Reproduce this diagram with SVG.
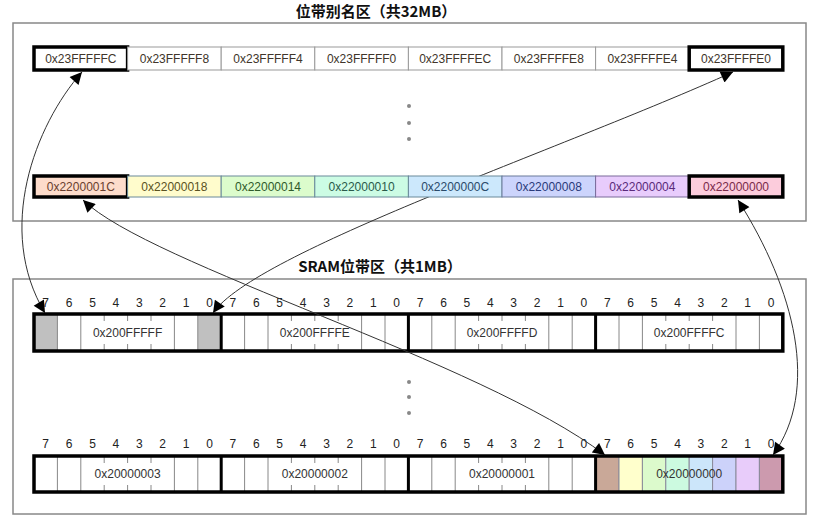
<svg xmlns="http://www.w3.org/2000/svg" width="819" height="520" viewBox="0 0 819 520">
<defs>
<style>
.title{font-family:"Noto Sans CJK SC","Liberation Sans",sans-serif;font-size:15px;font-weight:bold;fill:#111;text-anchor:middle}
.frame{fill:#fff;stroke:#888;stroke-width:1.5}
.cell{stroke:#999;stroke-width:1}
.thick{fill:none;stroke:#000;stroke-width:3.5}
.ct{font-family:"Liberation Sans",Arial,sans-serif;font-size:12px;text-anchor:middle}
.bn{font-family:"Liberation Sans",Arial,sans-serif;font-size:12px;text-anchor:middle;fill:#222}
.bl{font-family:"Liberation Sans",Arial,sans-serif;font-size:12px;text-anchor:middle;fill:#333}
.sep{stroke:#888;stroke-width:1;fill:none}
.bsep{stroke:#000;stroke-width:3;fill:none}
.conn{fill:none;stroke:#333;stroke-width:1}
.dot{fill:#888}
</style>
<marker id="arr" viewBox="0 0 10 10" refX="10" refY="5" markerUnits="userSpaceOnUse" markerWidth="15" markerHeight="12" orient="auto-start-reverse">
<path d="M0,0 L10,5 L0,10 z" fill="#000"/>
</marker>
</defs>

<g id="alias-region">
<text class="title" x="376" y="17">位带别名区（共32MB）</text>
<rect class="frame" x="13" y="23" width="793" height="198"/>
<g id="dots-top">
<circle class="dot" cx="409" cy="106" r="2"/>
<circle class="dot" cx="409" cy="123" r="2"/>
<circle class="dot" cx="409" cy="139" r="2"/>
</g>
</g>

<g id="sram-region">
<text class="title" x="380" y="272">SRAM位带区（共1MB）</text>
<rect class="frame" x="13" y="279" width="793" height="235"/>
<g id="dots-bottom">
<circle class="dot" cx="409" cy="382" r="2"/>
<circle class="dot" cx="409" cy="397" r="2"/>
<circle class="dot" cx="409" cy="413" r="2"/>
</g>
</g>

<g id="row-200FFFFx">
<rect x="34" y="314" width="748.8" height="37" fill="#fff"/>
<rect x="34" y="314" width="23.4" height="37" fill="#c0c0c0"/>
<rect x="197.8" y="314" width="23.4" height="37" fill="#c0c0c0"/>
<path class="sep" d="M57.4,314V351M80.8,314V351M174.4,314V351M197.8,314V351M104.2,314v7M104.2,351v-7M127.6,314v7M127.6,351v-7M151,314v7M151,351v-7
M244.6,314V351M268,314V351M361.6,314V351M385,314V351M291.4,314v7M291.4,351v-7M314.8,314v7M314.8,351v-7M338.2,314v7M338.2,351v-7
M431.8,314V351M455.2,314V351M548.8,314V351M572.2,314V351M478.6,314v7M478.6,351v-7M502,314v7M502,351v-7M525.4,314v7M525.4,351v-7
M619,314V351M642.4,314V351M736,314V351M759.4,314V351M665.8,314v7M665.8,351v-7M689.2,314v7M689.2,351v-7M712.6,314v7M712.6,351v-7"/>
<path class="bsep" d="M221.2,314V351M408.4,314V351M595.6,314V351"/>
<rect class="thick" x="34" y="314" width="748.8" height="37"/>
<text class="bl" x="127.6" y="337">0x200FFFFF</text>
<text class="bl" x="314.8" y="337">0x200FFFFE</text>
<text class="bl" x="502" y="337">0x200FFFFD</text>
<text class="bl" x="689.2" y="337">0x200FFFFC</text>
<g id="bits-row1">
<text class="bn" x="45.7" y="307">7</text><text class="bn" x="69.1" y="307">6</text><text class="bn" x="92.5" y="307">5</text><text class="bn" x="115.9" y="307">4</text><text class="bn" x="139.3" y="307">3</text><text class="bn" x="162.7" y="307">2</text><text class="bn" x="186.1" y="307">1</text><text class="bn" x="209.5" y="307">0</text>
<text class="bn" x="232.9" y="307">7</text><text class="bn" x="256.3" y="307">6</text><text class="bn" x="279.7" y="307">5</text><text class="bn" x="303.1" y="307">4</text><text class="bn" x="326.5" y="307">3</text><text class="bn" x="349.9" y="307">2</text><text class="bn" x="373.3" y="307">1</text><text class="bn" x="396.7" y="307">0</text>
<text class="bn" x="420.1" y="307">7</text><text class="bn" x="443.5" y="307">6</text><text class="bn" x="466.9" y="307">5</text><text class="bn" x="490.3" y="307">4</text><text class="bn" x="513.7" y="307">3</text><text class="bn" x="537.1" y="307">2</text><text class="bn" x="560.5" y="307">1</text><text class="bn" x="583.9" y="307">0</text>
<text class="bn" x="607.3" y="307">7</text><text class="bn" x="630.7" y="307">6</text><text class="bn" x="654.1" y="307">5</text><text class="bn" x="677.5" y="307">4</text><text class="bn" x="700.9" y="307">3</text><text class="bn" x="724.3" y="307">2</text><text class="bn" x="747.7" y="307">1</text><text class="bn" x="771.1" y="307">0</text>
</g>
</g>

<g id="row-2000000x">
<rect x="34" y="456" width="748.8" height="36" fill="#fff"/>
<g id="colored-bits" stroke="#8a8a9a" stroke-width="1">
<rect x="595.6" y="456" width="23.4" height="36" fill="#c9a898"/>
<rect x="619" y="456" width="23.4" height="36" fill="#ffffcc"/>
<rect x="642.4" y="456" width="23.4" height="36" fill="#dcfacc"/>
<rect x="665.8" y="456" width="23.4" height="36" fill="#ccfae0"/>
<rect x="689.2" y="456" width="23.4" height="36" fill="#cce6fa"/>
<rect x="712.6" y="456" width="23.4" height="36" fill="#ccd2fa"/>
<rect x="736" y="456" width="23.4" height="36" fill="#e8ccfa"/>
<rect x="759.4" y="456" width="23.4" height="36" fill="#cc9aae"/>
</g>
<path class="sep" d="M57.4,456V492M80.8,456V492M174.4,456V492M197.8,456V492M104.2,456v7M104.2,492v-7M127.6,456v7M127.6,492v-7M151,456v7M151,492v-7
M244.6,456V492M268,456V492M361.6,456V492M385,456V492M291.4,456v7M291.4,492v-7M314.8,456v7M314.8,492v-7M338.2,456v7M338.2,492v-7
M431.8,456V492M455.2,456V492M548.8,456V492M572.2,456V492M478.6,456v7M478.6,492v-7M502,456v7M502,492v-7M525.4,456v7M525.4,492v-7"/>
<path class="bsep" d="M221.2,456V492M408.4,456V492M595.6,456V492"/>
<rect class="thick" x="34" y="456" width="748.8" height="36"/>
<text class="bl" x="127.6" y="478">0x20000003</text>
<text class="bl" x="314.8" y="478">0x20000002</text>
<text class="bl" x="502" y="478">0x20000001</text>
<text class="bl" x="689.2" y="478" fill="#3a4a5a">0x20000000</text>
<g id="bits-row2">
<text class="bn" x="45.7" y="448">7</text><text class="bn" x="69.1" y="448">6</text><text class="bn" x="92.5" y="448">5</text><text class="bn" x="115.9" y="448">4</text><text class="bn" x="139.3" y="448">3</text><text class="bn" x="162.7" y="448">2</text><text class="bn" x="186.1" y="448">1</text><text class="bn" x="209.5" y="448">0</text>
<text class="bn" x="232.9" y="448">7</text><text class="bn" x="256.3" y="448">6</text><text class="bn" x="279.7" y="448">5</text><text class="bn" x="303.1" y="448">4</text><text class="bn" x="326.5" y="448">3</text><text class="bn" x="349.9" y="448">2</text><text class="bn" x="373.3" y="448">1</text><text class="bn" x="396.7" y="448">0</text>
<text class="bn" x="420.1" y="448">7</text><text class="bn" x="443.5" y="448">6</text><text class="bn" x="466.9" y="448">5</text><text class="bn" x="490.3" y="448">4</text><text class="bn" x="513.7" y="448">3</text><text class="bn" x="537.1" y="448">2</text><text class="bn" x="560.5" y="448">1</text><text class="bn" x="583.9" y="448">0</text>
<text class="bn" x="607.3" y="448">7</text><text class="bn" x="630.7" y="448">6</text><text class="bn" x="654.1" y="448">5</text><text class="bn" x="677.5" y="448">4</text><text class="bn" x="700.9" y="448">3</text><text class="bn" x="724.3" y="448">2</text><text class="bn" x="747.7" y="448">1</text><text class="bn" x="771.1" y="448">0</text>
</g>
</g>

<g id="connectors">
<path class="conn" d="M45,313 C -5,230 35,125 82,72" marker-start="url(#arr)" marker-end="url(#arr)"/>
<path class="conn" d="M213,313 C 255,252 560,150 733,72" marker-start="url(#arr)" marker-end="url(#arr)"/>
<path class="conn" d="M83,200 C 150,265 480,360 605,455" marker-start="url(#arr)" marker-end="url(#arr)"/>
<path class="conn" d="M738,200 C 795,290 820,390 773,455" marker-start="url(#arr)" marker-end="url(#arr)"/>
</g>

<g id="row-23FFFFxx">
<g id="n-23FFFFFC"><rect x="34" y="47" width="93.6" height="23" fill="#fff"/><rect class="thick" x="34" y="47" width="93.6" height="23"/><text class="ct" x="80.8" y="63" fill="#40352a">0x23FFFFFC</text></g>
<g id="n-23FFFFF8"><rect class="cell" x="127.6" y="47" width="93.6" height="23" fill="#fff"/><text class="ct" x="174.4" y="63" fill="#40352a">0x23FFFFF8</text></g>
<g id="n-23FFFFF4"><rect class="cell" x="221.2" y="47" width="93.6" height="23" fill="#fff"/><text class="ct" x="268" y="63" fill="#40352a">0x23FFFFF4</text></g>
<g id="n-23FFFFF0"><rect class="cell" x="314.8" y="47" width="93.6" height="23" fill="#fff"/><text class="ct" x="361.6" y="63" fill="#40352a">0x23FFFFF0</text></g>
<g id="n-23FFFFEC"><rect class="cell" x="408.4" y="47" width="93.6" height="23" fill="#fff"/><text class="ct" x="455.2" y="63" fill="#40352a">0x23FFFFEC</text></g>
<g id="n-23FFFFE8"><rect class="cell" x="502" y="47" width="93.6" height="23" fill="#fff"/><text class="ct" x="548.8" y="63" fill="#40352a">0x23FFFFE8</text></g>
<g id="n-23FFFFE4"><rect class="cell" x="595.6" y="47" width="93.6" height="23" fill="#fff"/><text class="ct" x="642.4" y="63" fill="#40352a">0x23FFFFE4</text></g>
<g id="n-23FFFFE0"><rect x="689.2" y="47" width="93.6" height="23" fill="#fff"/><rect class="thick" x="689.2" y="47" width="93.6" height="23"/><text class="ct" x="736" y="63" fill="#40352a">0x23FFFFE0</text></g>
</g>

<g id="row-220000xx">
<g id="n-2200001C"><rect x="34" y="176" width="93.6" height="21" fill="#fddccb"/><rect class="thick" x="34" y="176" width="93.6" height="21"/><text class="ct" x="80.8" y="191" fill="#6a3e2e">0x2200001C</text></g>
<g id="n-22000018"><rect x="127.6" y="176" width="93.6" height="21" fill="#fffccc" stroke="#6a8a9a" stroke-width="1"/><text class="ct" x="174.4" y="191" fill="#5a5222">0x22000018</text></g>
<g id="n-22000014"><rect x="221.2" y="176" width="93.6" height="21" fill="#dcfccc" stroke="#6a8a9a" stroke-width="1"/><text class="ct" x="268" y="191" fill="#2f5a2a">0x22000014</text></g>
<g id="n-22000010"><rect x="314.8" y="176" width="93.6" height="21" fill="#ccfce4" stroke="#6a8a9a" stroke-width="1"/><text class="ct" x="361.6" y="191" fill="#2a5a4a">0x22000010</text></g>
<g id="n-2200000C"><rect x="408.4" y="176" width="93.6" height="21" fill="#cce8fc" stroke="#6a8a9a" stroke-width="1"/><text class="ct" x="455.2" y="191" fill="#2a4a6a">0x2200000C</text></g>
<g id="n-22000008"><rect x="502" y="176" width="93.6" height="21" fill="#ccd4fc" stroke="#6a7a9a" stroke-width="1"/><text class="ct" x="548.8" y="191" fill="#2a3a7a">0x22000008</text></g>
<g id="n-22000004"><rect x="595.6" y="176" width="93.6" height="21" fill="#e8ccfc" stroke="#7a6a9a" stroke-width="1"/><text class="ct" x="642.4" y="191" fill="#5a2a7a">0x22000004</text></g>
<g id="n-22000000"><rect x="689.2" y="176" width="93.6" height="21" fill="#fcccdc"/><rect class="thick" x="689.2" y="176" width="93.6" height="21"/><text class="ct" x="736" y="191" fill="#7a2a4a">0x22000000</text></g>
</g>
</svg>
